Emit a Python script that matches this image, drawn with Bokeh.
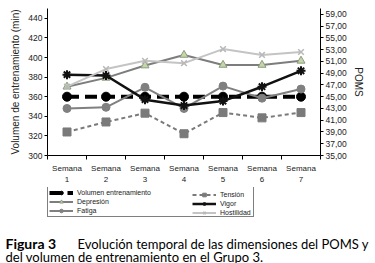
import math
from bokeh.plotting import figure
from bokeh.models import Range1d, LinearAxis, FixedTicker, Legend, LegendItem, Label
from bokeh.embed import file_html
from bokeh.resources import INLINE

weeks = [1, 2, 3, 4, 5, 6, 7]
week_labels = ["Semana\n1", "Semana\n2", "Semana\n3", "Semana\n4", "Semana\n5", "Semana\n6", "Semana\n7"]

# left axis (min)
volumen = [360, 360, 360, 360, 360, 360, 360]
# right axis (POMS)
tension = [39.0, 40.7, 42.2, 38.7, 42.3, 41.4, 42.3]
depresion = [46.7, 48.2, 50.3, 52.1, 50.4, 50.4, 51.1]
vigor = [48.75, 48.6, 44.5, 43.5, 44.25, 46.7, 49.4]
fatiga = [43.0, 43.2, 46.6, 43.0, 46.8, 44.75, 46.3]
hostilidad = [46.7, 49.7, 51.1, 50.7, 53.1, 52.1, 52.6]

left_ticks = [300, 320, 340, 360, 380, 400, 420, 440]
right_ticks = [35, 37, 39, 41, 43, 45, 47, 49, 51, 53, 55, 57, 59]

legend_col1 = ["Volumen entrenamiento", "Depresión", "Fatiga"]
legend_col2 = ["Tensión", "Vigor", "Hostilidad"]

caption_bold = "Figura 3"
caption_line1 = "Evolución temporal de las dimensiones del POMS y"
caption_line2 = "del volumen de entrenamiento en el Grupo 3."

FONT = "Liberation Sans"

STY = {
    "Volumen entrenamiento": dict(line=dict(line_color="black", line_width=4, line_dash="12 6"),
                                  mark=dict(marker="circle", size=9, fill_color="black", line_color="black")),
    "Tensión": dict(line=dict(line_color="#7a7a7a", line_width=2, line_dash="4 3"),
                    mark=dict(marker="square", size=8, fill_color="#7a7a7a", line_color="#7a7a7a")),
    "Depresión": dict(line=dict(line_color="#7d7d7d", line_width=2),
                      mark=dict(marker="triangle", size=8, fill_color="#c5d6a8", line_color="#8a9a80")),
    "Vigor": dict(line=dict(line_color="#111111", line_width=2.5),
                  mark=dict(marker="asterisk", size=9, line_color="#111111", line_width=2)),
    "Fatiga": dict(line=dict(line_color="#808080", line_width=2),
                   mark=dict(marker="circle", size=8, fill_color="#808080", line_color="#808080")),
    "Hostilidad": dict(line=dict(line_color="#c4c4c4", line_width=2),
                       mark=dict(marker="x", size=8, line_color="#b8b8b8", line_width=1.5)),
}
data = {"Volumen entrenamiento": volumen, "Tensión": tension, "Depresión": depresion,
        "Vigor": vigor, "Fatiga": fatiga, "Hostilidad": hostilidad}

p = figure(width=375, height=187, output_backend="svg", toolbar_location=None,
           x_range=Range1d(0.5, 7.5), y_range=Range1d(300, 450),
           min_border_left=47, min_border_right=55, min_border_top=8, min_border_bottom=31)
p.extra_y_ranges = {"poms": Range1d(35, 60)}
p.outline_line_color = None
p.xgrid.visible = False
p.ygrid.visible = False

xa = p.xaxis[0]
xa.ticker = FixedTicker(ticks=weeks, minor_ticks=[0.5, 1.5, 2.5, 3.5, 4.5, 5.5, 6.5, 7.5])
xa.major_label_overrides = {w: l for w, l in zip(weeks, week_labels)}
xa.major_tick_out = 0
xa.major_tick_in = 0
xa.minor_tick_out = 4
xa.minor_tick_in = 0
xa.minor_tick_line_color = "black"
xa.major_label_text_font = FONT
xa.major_label_text_font_size = "8px"
xa.major_label_text_line_height = 1.3
xa.major_label_text_color = "#222222"
xa.major_label_standoff = 4

ya = p.yaxis[0]
ya.ticker = FixedTicker(ticks=left_ticks, minor_ticks=[])
ya.axis_label = "Volumen de entrenamiento (min)"
ya.axis_label_text_font = FONT
ya.axis_label_text_font_size = "10px"
ya.axis_label_text_font_style = "normal"
ya.axis_label_text_color = "#222222"
ya.axis_label_standoff = 4
ya.major_label_text_font = FONT
ya.major_label_text_font_size = "8.5px"
ya.major_label_text_color = "#222222"
ya.major_tick_out = 3
ya.major_tick_in = 0
ya.major_label_standoff = 2

ra = LinearAxis(y_range_name="poms", ticker=FixedTicker(ticks=right_ticks, minor_ticks=[]))
ra.major_label_overrides = {t: "%d,00" % t for t in right_ticks}
ra.axis_label = "POMS"
ra.axis_label_text_font = FONT
ra.axis_label_text_font_size = "10px"
ra.axis_label_text_font_style = "normal"
ra.axis_label_text_color = "#222222"
ra.axis_label_standoff = 3
ra.major_label_text_font = FONT
ra.major_label_text_font_size = "8.5px"
ra.major_label_text_color = "#222222"
ra.major_tick_out = 3
ra.major_tick_in = 0
ra.major_label_standoff = 2
p.add_layout(ra, "right")

for name in legend_col1 + legend_col2:
    kw = {} if name == "Volumen entrenamiento" else {"y_range_name": "poms"}
    p.line(weeks, data[name], **kw, **STY[name]["line"])
    p.scatter(weeks, data[name], **kw, **STY[name]["mark"])

# legend + caption figure
c = figure(width=375, height=76, output_backend="svg", toolbar_location=None,
           x_range=Range1d(0, 375), y_range=Range1d(0, 76),
           x_axis_location=None, y_axis_location=None,
           min_border=0, min_border_left=0, min_border_right=0, min_border_top=0, min_border_bottom=0)
c.outline_line_color = None
c.xgrid.visible = False
c.ygrid.visible = False
# series re-drawn on a range far outside view: only used as legend samples
c.extra_x_ranges = {"off": Range1d(100, 200)}
c.extra_y_ranges = {"off": Range1d(1000, 2000)}


def items_for(names):
    out = []
    for name in names:
        lr = c.line(weeks, data[name], x_range_name="off", y_range_name="off", **STY[name]["line"])
        mr = c.scatter(weeks, data[name], x_range_name="off", y_range_name="off", **STY[name]["mark"])
        out.append(LegendItem(label=name, renderers=[lr, mr]))
    return out


common = dict(label_text_font=FONT, label_text_font_size="7px", label_text_color="#222222",
              glyph_width=24, glyph_height=9, label_height=9,
              label_standoff=4, spacing=0, padding=1, margin=0)
leg1 = Legend(items=items_for(legend_col1), location=(47, 46), label_width=175,
              border_line_color="black", border_line_width=1, background_fill_color="white",
              background_fill_alpha=1, **common)
leg2 = Legend(items=items_for(legend_col2), location=(192, 46), label_width=30,
              border_line_color=None, background_fill_alpha=0, **common)
c.add_layout(leg1, "center")
c.add_layout(leg2, "center")

CAP_FONT = "Lato"
c.add_layout(Label(x=5, y=20, text=caption_bold, text_baseline="alphabetic",
                   text_font=CAP_FONT, text_font_size="14px", text_font_style="bold", text_color="black"))
c.add_layout(Label(x=77, y=20, text=caption_line1, text_baseline="alphabetic",
                   text_font=CAP_FONT, text_font_size="13px", text_color="black"))
c.add_layout(Label(x=5, y=7, text=caption_line2, text_baseline="alphabetic",
                   text_font=CAP_FONT, text_font_size="13px", text_color="black"))

open("out.html", "w").write(file_html([p, c], INLINE))
